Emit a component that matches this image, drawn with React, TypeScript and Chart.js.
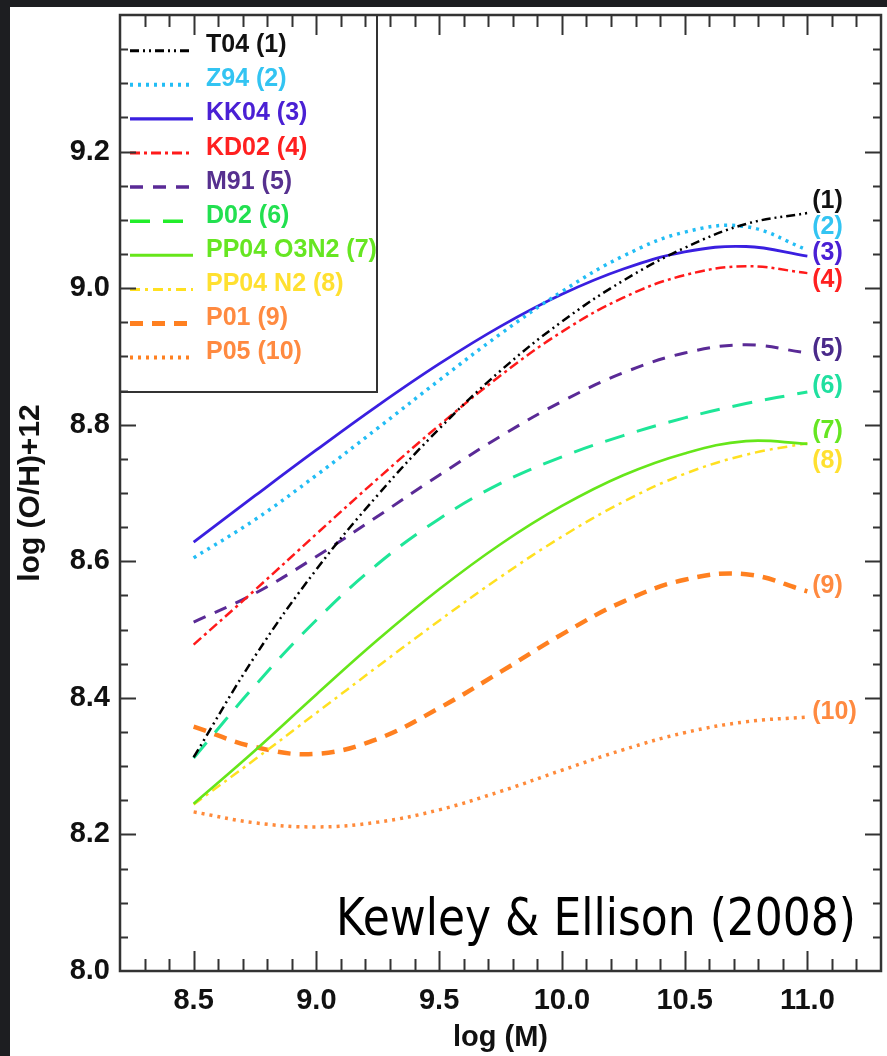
import React, { useEffect, useRef } from "react";
import { Chart, registerables } from "chart.js";

Chart.register(...registerables);

// ---- data ----
const logMass = [8.5, 8.75, 9.0, 9.25, 9.5, 9.75, 10.0, 10.25, 10.5, 10.75, 11.0];

const t04 = [8.313, 8.461, 8.588, 8.697, 8.794, 8.879, 8.951, 9.011, 9.059, 9.094, 9.11];
const z94 = [8.605, 8.661, 8.726, 8.795, 8.865, 8.933, 8.995, 9.047, 9.082, 9.09, 9.056];
const kk04 = [8.628, 8.696, 8.763, 8.828, 8.889, 8.944, 8.991, 9.028, 9.053, 9.061, 9.047];
const kd02 = [8.478, 8.558, 8.64, 8.721, 8.799, 8.872, 8.936, 8.986, 9.019, 9.032, 9.022];
const m91 = [8.511, 8.553, 8.607, 8.666, 8.726, 8.783, 8.834, 8.876, 8.905, 8.917, 8.905];
const d02 = [8.312, 8.418, 8.514, 8.596, 8.662, 8.714, 8.753, 8.784, 8.81, 8.831, 8.848];
const pp04o3n2 = [8.245, 8.323, 8.405, 8.485, 8.559, 8.625, 8.681, 8.726, 8.758, 8.776, 8.772];
const pp04n2 = [8.244, 8.31, 8.378, 8.446, 8.513, 8.577, 8.636, 8.687, 8.728, 8.756, 8.773];
const p01 = [8.358, 8.328, 8.318, 8.34, 8.385, 8.438, 8.493, 8.541, 8.573, 8.581, 8.556];
const p05 = [8.233, 8.217, 8.211, 8.218, 8.236, 8.263, 8.294, 8.324, 8.349, 8.365, 8.372];

const seriesValues = [t04, z94, kk04, kd02, m91, d02, pp04o3n2, pp04n2, p01, p05];
const seriesNames = [
  "T04 (1)", "Z94 (2)", "KK04 (3)", "KD02 (4)", "M91 (5)",
  "D02 (6)", "PP04 O3N2 (7)", "PP04 N2 (8)", "P01 (9)", "P05 (10)",
];
const endTags = ["(1)", "(2)", "(3)", "(4)", "(5)", "(6)", "(7)", "(8)", "(9)", "(10)"];
const endTagY = [9.127, 9.089, 9.051, 9.012, 8.911, 8.857, 8.79, 8.746, 8.563, 8.379];
const endTagX = 11.02;

const xTickLabels = [8.5, 9.0, 9.5, 10.0, 10.5, 11.0];
const yTickLabels = [8.0, 8.2, 8.4, 8.6, 8.8, 9.0, 9.2];

const annotationText = "Kewley & Ellison (2008)";

// ---- styles ----
const family = "'Liberation Sans', Arial, Helvetica, sans-serif";
const lineColors = ["#000000", "#22bdf5", "#3a1fe0", "#ff1a1a", "#5a2a96", "#1ee698", "#66e61a", "#ffe020", "#ff8020", "#ff8a3a"];
const legendLineColors = ["#000000", "#22bdf5", "#3a1fe0", "#ff1a1a", "#5a2a96", "#22ee2a", "#66e61a", "#ffe020", "#ff8020", "#ff8020"];
const textColors = ["#111111", "#33c4f2", "#4a20d4", "#ff2020", "#56308f", "#22e050", "#66e622", "#ffe030", "#ff8a40", "#ff8a40"];
const tagColors = ["#111111", "#33c4f2", "#4a20d4", "#ff2020", "#4a2a8a", "#20e0a0", "#66e622", "#ffe030", "#ff8a40", "#ff8a40"];
const dashes = [[9, 4, 2, 4, 2, 4], [3, 5], [], [10, 4, 3, 4], [13, 10], [20, 13], [], [10, 5, 3, 5], [13, 9], [3, 5]];
const widths = [2.5, 3.5, 2.8, 2.5, 3, 3, 2.6, 2.5, 4.5, 3.5];

const isMult = (v: number, step: number) => Math.abs(v / step - Math.round(v / step)) < 1e-6;
const hasLabel = (v: number, list: number[]) => list.some((t) => Math.abs(t - v) < 1e-6);

const decorPlugin = {
  id: "decor",
  beforeDraw(chart: any) {
    const { ctx, width, height } = chart;
    ctx.save();
    ctx.fillStyle = "#1d1e21";
    ctx.fillRect(0, 0, width, height);
    ctx.fillStyle = "#ffffff";
    ctx.fillRect(10, 7, width - 10, height - 7);
    ctx.restore();
  },
  afterDraw(chart: any) {
    const { ctx, chartArea: a, scales } = chart;
    const xs = scales.x;
    const ys = scales.y;
    ctx.save();

    // legend box
    const lr = 377;
    const lb = 392;
    ctx.fillStyle = "#ffffff";
    ctx.fillRect(a.left, a.top, lr - a.left, lb - a.top);
    ctx.strokeStyle = "#333333";
    ctx.lineWidth = 2;
    ctx.strokeRect(a.left, a.top, lr - a.left, lb - a.top);

    ctx.font = `bold 25px ${family}`;
    ctx.textAlign = "left";
    ctx.textBaseline = "alphabetic";
    seriesNames.forEach((name, i) => {
      const y = a.top + 35.7 + i * 34.1;
      ctx.save();
      ctx.strokeStyle = legendLineColors[i];
      ctx.lineWidth = widths[i] + 0.5;
      ctx.setLineDash(dashes[i]);
      ctx.beginPath();
      ctx.moveTo(a.left + 10, y);
      ctx.lineTo(a.left + 73, y);
      ctx.stroke();
      ctx.restore();
      ctx.fillStyle = textColors[i];
      ctx.fillText(name, a.left + 86, y + 1.5);
    });

    // inward ticks on all four sides
    ctx.strokeStyle = "#333333";
    ctx.lineWidth = 2;
    ctx.setLineDash([]);
    ctx.beginPath();
    xs.ticks.forEach((t: any) => {
      const v = t.value;
      if (Math.abs(v - xs.min) < 1e-6 || Math.abs(v - xs.max) < 1e-6) return;
      const px = Math.round(xs.getPixelForValue(v)) + 0.5;
      const len = isMult(v, 0.5) ? 20 : 12;
      ctx.moveTo(px, a.bottom);
      ctx.lineTo(px, a.bottom - len);
      ctx.moveTo(px, a.top);
      ctx.lineTo(px, a.top + len);
    });
    ys.ticks.forEach((t: any) => {
      const v = t.value;
      if (Math.abs(v - ys.min) < 1e-6 || Math.abs(v - ys.max) < 1e-6) return;
      const py = Math.round(ys.getPixelForValue(v)) + 0.5;
      const len = isMult(v, 0.2) ? 16 : 8;
      ctx.moveTo(a.left, py);
      ctx.lineTo(a.left + len, py);
      ctx.moveTo(a.right, py);
      ctx.lineTo(a.right - len, py);
    });
    ctx.stroke();

    // frame
    ctx.lineWidth = 2.5;
    ctx.strokeRect(a.left, a.top, a.right - a.left, a.bottom - a.top);

    // end tags
    ctx.font = `bold 25px ${family}`;
    ctx.textBaseline = "middle";
    ctx.textAlign = "left";
    endTags.forEach((tag, i) => {
      ctx.fillStyle = tagColors[i];
      ctx.fillText(tag, xs.getPixelForValue(endTagX), ys.getPixelForValue(endTagY[i]));
    });

    // annotation
    ctx.font = `52px 'DejaVu Sans', 'Noto Sans', sans-serif`;
    ctx.textBaseline = "alphabetic";
    ctx.fillStyle = "#000000";
    const w = ctx.measureText(annotationText).width;
    const targetW = 520;
    ctx.translate(a.right - 25 - targetW, 935);
    ctx.scale(targetW / w, 1);
    ctx.fillText(annotationText, 0, 0);

    ctx.restore();
  },
};

export default function App() {
  const ref = useRef<HTMLCanvasElement>(null);

  useEffect(() => {
    if (!ref.current) return;
    const datasets = seriesValues.map((vals, i) => ({
      label: seriesNames[i],
      data: logMass.map((x, j) => ({ x, y: vals[j] })),
      borderColor: lineColors[i],
      backgroundColor: lineColors[i],
      borderWidth: widths[i],
      borderDash: dashes[i],
      pointRadius: 0,
      fill: false,
      tension: 0.4,
    }));

    const chart = new Chart(ref.current, {
      type: "line",
      data: { datasets },
      plugins: [decorPlugin],
      options: {
        responsive: false,
        maintainAspectRatio: false,
        animation: false,
        events: [],
        layout: { padding: { top: 15, right: 6, left: 0, bottom: 0 } },
        plugins: {
          legend: { display: false },
          tooltip: { enabled: false },
        },
        scales: {
          x: {
            type: "linear",
            position: "bottom",
            min: 8.2,
            max: 11.3,
            grid: { display: false, drawTicks: false },
            border: { display: false },
            ticks: {
              stepSize: 0.1,
              autoSkip: false,
              maxRotation: 0,
              minRotation: 0,
              padding: 13,
              color: "#111111",
              font: { family, size: 29, weight: "bold" },
              callback: (v: any) => (hasLabel(Number(v), xTickLabels) ? Number(v).toFixed(1) : ""),
            },
            title: {
              display: true,
              text: "log (M)",
              color: "#111111",
              font: { family, size: 29, weight: "bold" },
              padding: { top: 0, bottom: 1 },
            },
            afterFit: (s: any) => {
              s.height = 85;
              s.paddingLeft = 0;
              s.paddingRight = 0;
            },
          },
          y: {
            type: "linear",
            position: "left",
            min: 8.0,
            max: 9.4,
            grid: { display: false, drawTicks: false },
            border: { display: false },
            ticks: {
              stepSize: 0.05,
              autoSkip: false,
              padding: 10,
              color: "#111111",
              font: { family, size: 29, weight: "bold" },
              callback: (v: any) => (hasLabel(Number(v), yTickLabels) ? Number(v).toFixed(1) : ""),
            },
            title: {
              display: true,
              text: "log (O/H)+12",
              color: "#111111",
              font: { family, size: 30, weight: "bold" },
              padding: { top: 13, bottom: 0 },
            },
            afterFit: (s: any) => {
              s.width = 120;
              s.paddingTop = 0;
              s.paddingBottom = 0;
            },
          },
        },
      },
    });
    return () => chart.destroy();
  }, []);

  return (
    <div style={{ position: "absolute", left: 0, top: 0, width: 887, height: 1056, background: "#1d1e21" }}>
      <canvas ref={ref} width={887} height={1056} style={{ display: "block", width: 887, height: 1056 }} />
    </div>
  );
}
